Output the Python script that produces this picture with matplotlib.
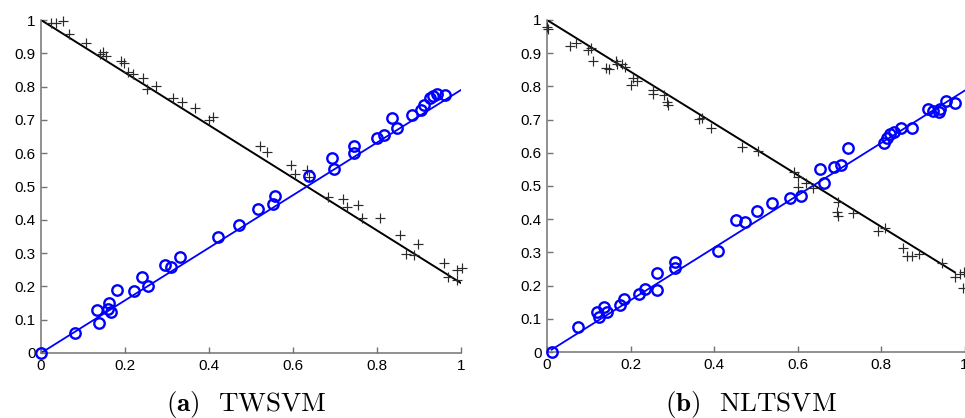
import matplotlib
matplotlib.use("Agg")
import matplotlib.pyplot as plt
import numpy as np

plt.rcParams['font.family'] = ['Liberation Sans', 'DejaVu Sans']
plt.rcParams['mathtext.fontset'] = 'cm'

# (a) TWSVM - positive class (blue circles)
tw_pos_x = [0.0, 0.081, 0.133, 0.138, 0.16, 0.163, 0.167, 0.182, 0.222, 0.24, 0.255,
            0.295, 0.309, 0.331, 0.422, 0.472, 0.516, 0.552, 0.556, 0.638, 0.694, 0.698,
            0.746, 0.745, 0.799, 0.817, 0.835, 0.847, 0.883, 0.904, 0.912, 0.926, 0.934,
            0.944, 0.962]
tw_pos_y = [0.0, 0.059, 0.13, 0.091, 0.132, 0.15, 0.124, 0.19, 0.185, 0.227, 0.2,
            0.265, 0.257, 0.288, 0.347, 0.383, 0.433, 0.446, 0.471, 0.531, 0.586, 0.554,
            0.623, 0.601, 0.647, 0.655, 0.707, 0.677, 0.714, 0.729, 0.744, 0.767, 0.772,
            0.779, 0.774]
# (a) TWSVM - negative class (crosses)
tw_neg_x = [0.023, 0.036, 0.052, 0.067, 0.107, 0.14, 0.148, 0.155, 0.19, 0.198, 0.208,
            0.218, 0.242, 0.253, 0.274, 0.314, 0.335, 0.367, 0.401, 0.409, 0.521, 0.539,
            0.595, 0.605, 0.633, 0.639, 0.684, 0.72, 0.728, 0.754, 0.764, 0.806, 0.855,
            0.869, 0.889, 0.897, 0.96, 0.97, 0.99, 1.002, 0.991]
tw_neg_y = [0.991, 0.991, 0.998, 0.958, 0.931, 0.898, 0.903, 0.891, 0.877, 0.87, 0.844,
            0.837, 0.827, 0.794, 0.802, 0.767, 0.754, 0.737, 0.7, 0.71, 0.621, 0.603,
            0.566, 0.539, 0.551, 0.528, 0.469, 0.461, 0.439, 0.444, 0.404, 0.404, 0.355,
            0.297, 0.295, 0.328, 0.27, 0.228, 0.25, 0.255, 0.218]
tw_pos_line_x = [0.0, 1.0]
tw_pos_line_y = [0.0, 0.79]
tw_neg_line_x = [0.0, 1.0]
tw_neg_line_y = [1.0, 0.21]

# (b) NLTSVM - positive class
nl_pos_x = [0.011, 0.075, 0.12, 0.125, 0.137, 0.143, 0.176, 0.184, 0.22, 0.235, 0.263,
            0.264, 0.307, 0.307, 0.41, 0.453, 0.474, 0.504, 0.538, 0.582, 0.608, 0.654,
            0.663, 0.688, 0.704, 0.72, 0.808, 0.814, 0.822, 0.832, 0.848, 0.875, 0.913,
            0.925, 0.939, 0.941, 0.955, 0.977]
nl_pos_y = [0.001, 0.076, 0.121, 0.106, 0.135, 0.121, 0.142, 0.16, 0.174, 0.19, 0.187,
            0.237, 0.272, 0.252, 0.304, 0.398, 0.392, 0.425, 0.448, 0.463, 0.471, 0.55,
            0.51, 0.558, 0.563, 0.613, 0.63, 0.644, 0.656, 0.664, 0.676, 0.676, 0.731,
            0.727, 0.724, 0.731, 0.756, 0.751]
# (b) NLTSVM - negative class
nl_neg_x = [0.001, 0.003, 0.055, 0.069, 0.099, 0.105, 0.111, 0.141, 0.149, 0.165, 0.168,
            0.179, 0.187, 0.2, 0.207, 0.215, 0.255, 0.255, 0.28, 0.287, 0.291, 0.365,
            0.371, 0.393, 0.466, 0.506, 0.592, 0.602, 0.6, 0.62, 0.636, 0.698, 0.694,
            0.698, 0.734, 0.794, 0.81, 0.853, 0.862, 0.875, 0.891, 0.945, 0.977, 0.989,
            0.999, 0.997]
nl_neg_y = [0.978, 0.972, 0.923, 0.932, 0.91, 0.915, 0.877, 0.854, 0.851, 0.877, 0.867,
            0.867, 0.859, 0.804, 0.824, 0.817, 0.789, 0.777, 0.774, 0.754, 0.744, 0.701,
            0.704, 0.674, 0.617, 0.606, 0.543, 0.528, 0.498, 0.508, 0.493, 0.453, 0.423,
            0.41, 0.418, 0.364, 0.373, 0.314, 0.289, 0.289, 0.294, 0.269, 0.225, 0.235,
            0.242, 0.192]
nl_pos_line_x = [0.011, 1.0]
nl_pos_line_y = [0.007, 0.787]
nl_neg_line_x = [0.0, 0.977]
nl_neg_line_y = [1.0, 0.24]

y_ticks = [0, 0.1, 0.2, 0.3, 0.4, 0.5, 0.6, 0.7, 0.8, 0.9, 1]
x_ticks = [0, 0.2, 0.4, 0.6, 0.8, 1]
captions = [r'$\mathbf{(a)}$  TWSVM', r'$\mathbf{(b)}$  NLTSVM']

W, H = 965, 418
fig = plt.figure(figsize=(W / 100, H / 100), dpi=100)
ax1 = fig.add_axes([41 / W, 1 - 353 / H, 420 / W, 333 / H])
ax2 = fig.add_axes([547 / W, 1 - 352 / H, 417.5 / W, 332 / H])

panels = [
    (ax1, tw_pos_x, tw_pos_y, tw_neg_x, tw_neg_y,
     tw_pos_line_x, tw_pos_line_y, tw_neg_line_x, tw_neg_line_y),
    (ax2, nl_pos_x, nl_pos_y, nl_neg_x, nl_neg_y,
     nl_pos_line_x, nl_pos_line_y, nl_neg_line_x, nl_neg_line_y),
]

for i, (ax, px, py, nx, ny, plx, ply, nlx, nly) in enumerate(panels):
    ax.plot(nlx, nly, color='black', lw=1.4, zorder=2)
    ax.plot(plx, ply, color='blue', lw=1.3, zorder=2)
    ax.plot(nx, ny, '+', color='#2a2a2a', ms=7, mew=0.85, clip_on=False, zorder=3)
    ax.plot(px, py, 'o', mfc='none', mec='blue', ms=7.5, mew=1.7, clip_on=False, zorder=4)

    ax.set_xlim(0, 1)
    ax.set_ylim(0, 1)
    ax.set_xticks(x_ticks)
    ax.set_xticklabels(['%g' % t for t in x_ticks])
    ax.set_yticks(y_ticks)
    ax.set_yticklabels(['%g' % t for t in y_ticks])
    for s in ['top', 'right']:
        ax.spines[s].set_visible(False)
    for s in ['left', 'bottom']:
        ax.spines[s].set_color('0.45')
        ax.spines[s].set_linewidth(1.1)
    ax.tick_params(direction='in', length=4, width=1, color='0.45',
                   labelsize=11, pad=4, labelcolor='black')

    bb = ax.get_position()
    fig.text((bb.x0 + bb.x1) / 2 - 5 / W, 7.5 / H, captions[i], family='cmr10',
             fontsize=19.5, ha='center', va='baseline')

fig.savefig('out.png', dpi=100)
